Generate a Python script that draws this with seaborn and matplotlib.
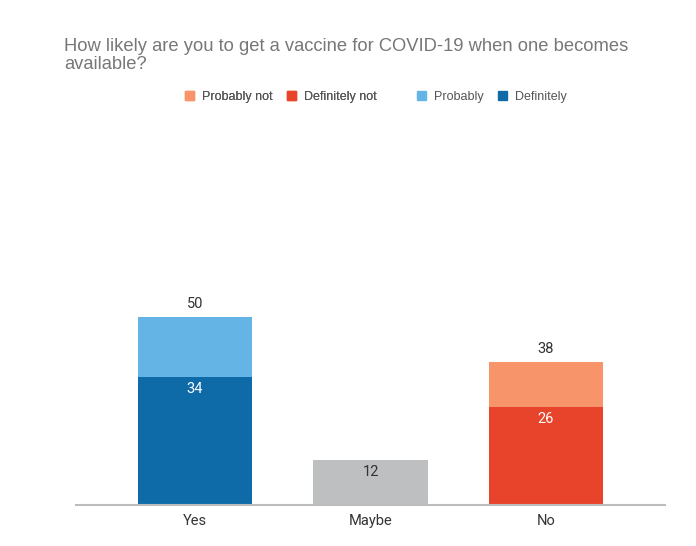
import matplotlib
matplotlib.use("Agg")
import matplotlib.pyplot as plt
from matplotlib.patches import Patch
import seaborn as sns
import pandas as pd

# chart values
answers = ["Yes", "Maybe", "No"]
totals = [50, 12, 38]          # probably + definitely (or maybe)
definite = [34, 0, 26]         # "Definitely" / "Definitely not" part
total_colors = ["#64B4E6", "#BEBFC0", "#F7946A"]
definite_colors = ["#0F6BA8", "#BEBFC0", "#E8432B"]
title = "How likely are you to get a vaccine for COVID-19 when one becomes\navailable?"

df = pd.DataFrame({"answer": answers, "total": totals, "definite": definite})

sns.set_style("white")
plt.rcParams["font.family"] = ["Liberation Sans", "DejaVu Sans"]

fig = plt.figure(figsize=(6.96, 5.46), dpi=100)
ax = fig.add_axes([76 / 696, 41 / 546, 589 / 696, 377 / 546])

sns.barplot(data=df, x="answer", y="total", hue="answer", palette=total_colors,
            order=answers, width=0.655, linewidth=0, saturation=1, legend=False, ax=ax)
sns.barplot(data=df, x="answer", y="definite", hue="answer", palette=definite_colors,
            order=answers, width=0.655, linewidth=0, saturation=1, legend=False, ax=ax)

ax.set_ylim(0, 100)
ax.set_xlim(-0.678, 2.678)
ax.set_xlabel("")
ax.set_ylabel("")
ax.set_yticks([])
sns.despine(ax=ax, left=True)
ax.spines["bottom"].set_color("#BDBDBD")
ax.spines["bottom"].set_linewidth(1.5)
ax.tick_params(axis="x", length=0, pad=6.5, labelsize=10.5, labelcolor="#333333")
for t in ax.get_xticklabels():
    t.set_family(["Roboto", "DejaVu Sans"])

# value labels
lab_font = dict(fontsize=10.5, family=["Roboto", "DejaVu Sans"], ha="center", va="center")
for i, (tot, d) in enumerate(zip(totals, definite)):
    if d > 0:
        ax.annotate(str(tot), (i, tot), xytext=(0, 9), textcoords="offset points",
                    color="#333333", **lab_font)
        ax.annotate(str(d), (i, d), xytext=(0, -9), textcoords="offset points",
                    color="white", **lab_font)
    else:
        ax.annotate(str(tot), (i, tot), xytext=(0, -9), textcoords="offset points",
                    color="#333333", **lab_font)

fig.text(64 / 696, 1 - 38 / 546, title, ha="left", va="top", fontsize=13.2,
         color="#777777", linespacing=1.05)

leg_kw = dict(loc="center left", frameon=False, borderpad=0, borderaxespad=0,
              handlelength=0.72, handleheight=0.72, handletextpad=0.62,
              columnspacing=1.2, fontsize=9, labelcolor="#555555", ncol=2)
leg1 = fig.legend(handles=[Patch(color="#F7946A", label="Probably not"),
                           Patch(color="#E8432B", label="Definitely not")],
                  bbox_to_anchor=(185 / 696, 1 - 97 / 546), **leg_kw)
fig.add_artist(leg1)
fig.legend(handles=[Patch(color="#64B4E6", label="Probably"),
                    Patch(color="#0F6BA8", label="Definitely")],
           bbox_to_anchor=(417 / 696, 1 - 97 / 546), **leg_kw)

fig.savefig("out.png", dpi=100)
